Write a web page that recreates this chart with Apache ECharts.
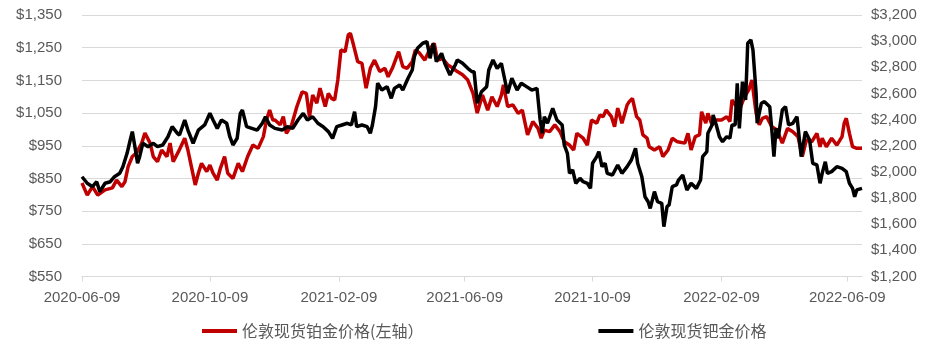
<!DOCTYPE html>
<html>
<head>
<meta charset="utf-8">
<script src="https://cdn.jsdelivr.net/npm/echarts@6/dist/echarts.min.js"></script>
<style>html,body{margin:0;padding:0;background:#fff}#c{width:938px;height:341px}</style>
</head>
<body>
<div id="c"></div>
<script>
// x values are day offsets from startDate
const startDate = '2020-06-09';
const totalDays = 744;
const tickLabels = ['2020-06-09','2020-10-09','2021-02-09','2021-06-09','2021-10-09','2022-02-09','2022-06-09'];
const seriesNames = ['伦敦现货铂金价格(左轴）', '伦敦现货钯金价格'];

const ptDays = [0,5,10,15,22,29,33,38,41,44,48,52,57,60,65,68,72,76,81,84,87,92,98,101,105,108,111,114,119,122,125,129,132,136,139,144,149,153,158,163,168,173,176,179,182,184,189,192,195,200,205,210,214,217,220,224,227,232,235,238,241,244,247,251,254,256,259,263,267,271,275,279,284,289,292,296,302,306,310,315,318,322,327,332,336,339,344,349,354,358,363,368,373,377,382,387,391,396,400,402,406,411,416,420,425,430,435,438,441,446,451,456,460,465,469,472,478,482,486,491,494,497,500,505,508,511,515,520,522,525,529,532,535,539,541,546,551,554,559,563,568,575,578,581,585,589,591,595,597,601,605,610,615,618,620,622,627,632,636,639,641,643,646,649,653,658,663,668,673,678,683,687,691,696,701,704,706,710,715,720,725,727,729,732,735,739,744];
const ptPrice = [836,799,825,799,815,821,845,825,840,886,917,928,958,989,958,917,901,937,917,958,901,932,973,937,876,830,866,896,871,891,866,845,881,917,866,850,896,871,917,952,942,978,1029,1059,1029,1029,1014,1039,988,1014,1070,1115,1110,1039,1105,1080,1126,1070,1110,1095,1090,1151,1243,1238,1289,1294,1258,1207,1202,1126,1187,1212,1177,1187,1161,1187,1238,1192,1187,1207,1243,1233,1212,1248,1263,1212,1217,1197,1187,1177,1167,1151,1110,1050,1105,1059,1100,1070,1105,1136,1070,1075,1049,1059,983,1024,1003,973,998,993,1014,993,962,952,937,988,973,952,1029,1019,1044,1039,1059,1039,1008,1065,1019,1075,1085,1095,1039,1029,983,973,947,937,947,917,937,973,962,958,988,937,978,983,1054,1019,1049,1014,1029,1029,1039,1024,1090,1080,1059,1100,1121,1151,1100,1049,1014,1034,1039,1008,998,958,1003,993,978,917,968,962,988,947,973,947,973,952,978,1019,1034,988,947,942,942];

const pdDays = [0,5,10,14,17,22,27,31,36,39,43,46,48,51,53,55,58,63,68,72,77,82,86,91,93,98,101,106,111,117,122,125,129,133,138,141,144,148,151,153,157,162,167,172,175,179,184,191,196,201,206,211,215,220,225,230,235,239,243,248,253,257,260,262,267,272,275,277,280,282,286,291,295,298,303,306,311,315,317,320,325,329,332,335,338,343,346,351,356,358,363,368,372,374,377,381,386,388,392,396,400,404,406,410,415,419,424,429,434,437,439,441,444,449,453,458,460,463,465,468,471,475,478,482,485,487,491,493,496,499,501,506,511,515,520,524,528,530,534,537,540,542,546,549,553,555,558,560,563,567,569,573,577,581,586,590,592,596,597,601,602,605,608,611,615,618,620,623,625,627,630,633,635,638,640,643,644,648,651,656,658,660,662,664,668,671,674,678,682,684,686,690,694,697,701,704,706,709,711,715,720,725,729,732,735,737,739,744];
const pdPrice = [1963,1913,1887,1925,1849,1913,1925,1963,1989,2040,2142,2244,2308,2168,2066,2117,2219,2193,2219,2193,2206,2269,2346,2295,2282,2397,2320,2219,2320,2359,2448,2397,2333,2397,2372,2269,2206,2257,2448,2473,2346,2333,2320,2372,2422,2359,2333,2320,2346,2333,2397,2448,2397,2422,2372,2346,2308,2257,2346,2359,2372,2359,2461,2346,2359,2346,2295,2359,2499,2678,2626,2652,2563,2639,2665,2626,2716,2779,2881,2945,2984,2996,2869,2984,2843,2907,2831,2741,2818,2856,2831,2792,2766,2766,2525,2613,2652,2779,2856,2792,2831,2678,2601,2716,2626,2678,2652,2626,2639,2397,2295,2422,2372,2486,2397,2359,2206,2142,1989,2015,1913,1951,1925,1913,1874,2066,2117,2155,2040,2066,1989,1976,2053,1989,2040,2091,2181,2066,1963,1810,1772,1721,1849,1772,1760,1581,1734,1747,1887,1900,1938,1976,1862,1913,1874,1938,2117,2155,2295,2359,2435,2359,2269,2231,2269,2257,2359,2359,2678,2333,2690,2550,2984,3009,2932,2601,2372,2525,2537,2499,2320,2117,2333,2257,2473,2499,2359,2372,2422,2269,2117,2308,2244,2066,2053,1913,1989,2078,1989,2002,2040,2027,2002,1913,1874,1810,1862,1874];

// calendar-day categories
const categories = [];
(function () {
  const p = startDate.split('-').map(Number);
  const base = Date.UTC(p[0], p[1] - 1, p[2]);
  for (let i = 0; i <= totalDays; i++) {
    const d = new Date(base + i * 86400000);
    const s = d.getUTCFullYear() + '-' + String(d.getUTCMonth() + 1).padStart(2, '0') + '-' + String(d.getUTCDate()).padStart(2, '0');
    categories.push(s);
  }
})();

function money(v) {
  return '$' + String(Math.round(v)).replace(/\B(?=(\d{3})+(?!\d))/g, ',');
}
const isTick = (idx, val) => tickLabels.indexOf(categories[idx]) >= 0;

const chart = echarts.init(document.getElementById('c'), null, {renderer: 'canvas'});
const labelFont = {color: '#595959', fontSize: 15, fontFamily: 'Liberation Sans'};
chart.setOption({
  animation: false,
  backgroundColor: '#fff',
  grid: {left: 82, right: 76, top: 15, bottom: 64.5, containLabel: false},
  legend: {
    left: 197, top: 318, itemWidth: 35, itemHeight: 4, itemGap: 175, icon: 'rect',
    textStyle: {fontSize: 16, color: '#595959', fontFamily: 'Noto Sans CJK SC'},
    data: seriesNames
  },
  xAxis: {
    type: 'category', data: categories, boundaryGap: false,
    axisLine: {lineStyle: {color: '#D9D9D9'}},
    axisTick: {show: true, interval: isTick, length: 5, lineStyle: {color: '#D9D9D9'}},
    axisLabel: Object.assign({interval: isTick, margin: 14, hideOverlap: false}, labelFont),
    splitLine: {show: false}
  },
  yAxis: [
    {type: 'value', min: 550, max: 1350, interval: 100, position: 'left',
     axisLine: {show: false}, axisTick: {show: false},
     axisLabel: Object.assign({formatter: money, margin: 20}, labelFont),
     splitLine: {lineStyle: {color: '#D9D9D9'}}},
    {type: 'value', min: 1200, max: 3200, interval: 200, position: 'right',
     axisLine: {show: false}, axisTick: {show: false},
     axisLabel: Object.assign({formatter: money, margin: 9}, labelFont),
     splitLine: {show: false}}
  ],
  series: [
    {name: seriesNames[0], type: 'line', yAxisIndex: 0, showSymbol: false, symbol: 'none',
     lineStyle: {color: '#C00000', width: 3.5}, itemStyle: {color: '#C00000'},
     data: ptDays.map((d, i) => [d, ptPrice[i]])},
    {name: seriesNames[1], type: 'line', yAxisIndex: 1, showSymbol: false, symbol: 'none',
     lineStyle: {color: '#000000', width: 3.5}, itemStyle: {color: '#000000'},
     data: pdDays.map((d, i) => [d, pdPrice[i]])}
  ]
});
</script>
</body>
</html>
